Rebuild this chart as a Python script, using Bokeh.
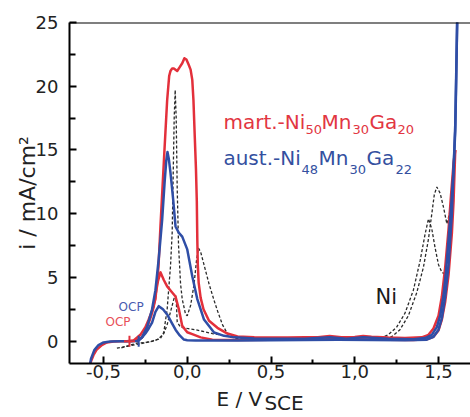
import math

from bokeh.embed import file_html
from bokeh.models import FixedTicker, Label, LinearAxis, Range1d, Span
from bokeh.plotting import figure
from bokeh.resources import INLINE

# --- cyclic voltammograms, E in V vs SCE, i in mA/cm^2 ---
# martensitic Ni50Mn30Ga20: anodic sweep and return sweep
mart_fwd_E = [-0.59, -0.578, -0.56, -0.54, -0.51, -0.48, -0.44, -0.40, -0.36, -0.32,
              -0.28, -0.25, -0.23, -0.21, -0.19, -0.172, -0.16, -0.15, -0.136, -0.12,
              -0.108, -0.10, -0.09, -0.08, -0.07, -0.06, -0.045, -0.03, -0.017, -0.005,
              0.008, 0.02, 0.03, 0.037, 0.045, 0.052, 0.057, 0.06, 0.063, 0.068,
              0.08, 0.097, 0.13, 0.18, 0.24, 0.30, 0.40, 0.50, 0.60, 0.70,
              0.78, 0.85, 0.92, 1.00, 1.05, 1.10, 1.20, 1.30, 1.40, 1.44,
              1.47, 1.50, 1.52, 1.54, 1.56, 1.575, 1.59, 1.60]
mart_fwd_i = [-2.6, -1.7, -1.1, -0.65, -0.3, -0.1, -0.03, 0.0, 0.0, 0.05,
              0.5, 1.1, 1.7, 2.4, 3.3, 5.8, 9.0, 11.5, 15.0, 18.9,
              20.8, 21.2, 21.4, 21.4, 21.3, 21.2, 21.5, 21.8, 22.2, 22.1,
              21.7, 21.3, 20.5, 18.9, 16.0, 13.5, 11.0, 8.0, 6.0, 4.6,
              3.4, 2.5, 1.6, 1.05, 0.6, 0.37, 0.3, 0.28, 0.28, 0.3,
              0.3, 0.4, 0.3, 0.32, 0.4, 0.35, 0.28, 0.25, 0.3, 0.5,
              1.0, 2.0, 3.5, 5.8, 8.8, 11.5, 14.0, 15.0]
mart_rev_E = [1.60, 1.59, 1.58, 1.56, 1.54, 1.52, 1.50, 1.47, 1.43, 1.35,
              1.2, 1.0, 0.85, 0.7, 0.5, 0.3, 0.15, 0.08, 0.03, 0.0,
              -0.03, -0.05, -0.07, -0.095, -0.12, -0.14, -0.16, -0.175, -0.19, -0.2,
              -0.215, -0.23, -0.25, -0.27, -0.3, -0.34]
mart_rev_i = [15.0, 11.0, 8.5, 5.2, 3.1, 1.7, 0.85, 0.35, 0.15, 0.1,
              0.12, 0.15, 0.2, 0.15, 0.12, 0.1, 0.12, 0.3, 0.55, 0.7,
              1.2, 2.5, 3.5, 3.9, 4.3, 4.8, 5.4, 4.7, 3.6, 2.7,
              2.0, 1.45, 0.75, 0.3, 0.08, 0.0]

# austenitic Ni48Mn30Ga22
aust_fwd_E = [-0.59, -0.575, -0.555, -0.53, -0.50, -0.46, -0.40, -0.35, -0.30, -0.27,
              -0.24, -0.21, -0.19, -0.17, -0.15, -0.135, -0.125, -0.118, -0.11, -0.10,
              -0.084, -0.07, -0.05, -0.03, 0.0, 0.03, 0.06, 0.1, 0.16, 0.22,
              0.28, 0.4, 0.55, 0.7, 0.85, 0.95, 1.05, 1.2, 1.35, 1.42,
              1.46, 1.49, 1.51, 1.53, 1.545, 1.56, 1.575, 1.59, 1.60, 1.605,
              1.612]
aust_fwd_i = [-2.6, -1.4, -0.7, -0.3, -0.1, -0.03, 0.0, 0.0, 0.02, 0.3,
              1.1, 2.5, 4.0, 6.5, 9.5, 12.5, 14.2, 14.85, 14.3, 13.2,
              11.1, 9.0, 8.5, 8.2, 7.2, 5.1, 3.3, 1.7, 0.68, 0.42,
              0.3, 0.22, 0.2, 0.2, 0.3, 0.2, 0.3, 0.2, 0.15, 0.25,
              0.5, 1.1, 2.0, 3.6, 5.5, 8.0, 10.5, 13.5, 16.5, 20.0,
              25.5]
aust_rev_E = [1.612, 1.60, 1.58, 1.56, 1.54, 1.52, 1.50, 1.47, 1.43, 1.3,
              1.1, 0.9, 0.7, 0.5, 0.3, 0.15, 0.05, 0.0, -0.02, -0.045,
              -0.07, -0.095, -0.12, -0.145, -0.17, -0.19, -0.21, -0.23, -0.25, -0.27,
              -0.29]
aust_rev_i = [25.5, 17.0, 10.0, 6.0, 3.5, 1.8, 0.9, 0.35, 0.12, 0.08,
              0.1, 0.12, 0.1, 0.08, 0.05, 0.05, 0.05, 0.08, 0.13, 0.45,
              0.9, 1.5, 2.1, 2.5, 2.75, 2.3, 1.45, 1.0, 0.6, 0.3,
              0.05]

# pure Ni reference (dotted)
ni_fwd_E = [-0.42, -0.36, -0.30, -0.24, -0.2, -0.16, -0.14, -0.12, -0.10, -0.09,
            -0.084, -0.078, -0.072, -0.066, -0.06, -0.052, -0.04, -0.03, -0.01, 0.0,
            0.02, 0.04, 0.055, 0.067, 0.08, 0.1, 0.13, 0.16, 0.18, 0.21,
            0.24, 0.27, 0.32, 0.45, 0.6, 0.8, 1.0, 1.1, 1.15, 1.2,
            1.25, 1.3, 1.35, 1.39, 1.42, 1.44, 1.46, 1.48, 1.5, 1.52,
            1.535, 1.55, 1.565, 1.58]
ni_fwd_i = [-0.55, -0.4, -0.25, -0.1, 0.05, 0.2, 0.7, 2.5, 5.9, 8.5,
            13.0, 17.5, 19.7, 17.5, 12.0, 7.5, 4.5, 3.3, 2.1, 2.0,
            2.8, 4.4, 6.3, 7.3, 7.0, 6.0, 4.5, 3.2, 2.4, 1.3,
            0.6, 0.3, 0.15, 0.1, 0.08, 0.1, 0.1, 0.12, 0.2, 0.5,
            1.1, 2.2, 4.0, 6.3, 8.4, 9.6, 8.8, 7.3, 6.0, 5.4,
            5.3, 6.5, 8.8, 11.0]
ni_rev_E = [1.58, 1.565, 1.55, 1.53, 1.51, 1.49, 1.475, 1.46, 1.44, 1.41,
            1.37, 1.32, 1.27, 1.22, 1.15, 1.0, 0.8, 0.6, 0.4, 0.28,
            0.15, 0.05, 0.0, -0.04, -0.06, -0.065, -0.07, -0.08, -0.1, -0.12,
            -0.14, -0.17, -0.2, -0.25, -0.3, -0.35, -0.4]
ni_rev_i = [11.0, 10.0, 9.2, 10.5, 11.6, 12.1, 11.5, 10.0, 8.0, 5.8,
            3.8, 2.0, 0.9, 0.35, 0.15, 0.1, 0.1, 0.1, 0.15, 0.3,
            0.6, 0.9, 1.0, 1.1, 1.5, 3.0, 3.6, 3.3, 2.3, 1.3,
            0.6, 0.2, 0.0, -0.1, -0.15, -0.35, -0.55]

# open circuit potentials
ocp_E_mart = -0.345
ocp_E_aust = -0.29
ocp_i = 0.0

x_ticks = [-0.5, 0.0, 0.5, 1.0, 1.5]
x_tick_labels = ["-0,5", "0,0", "0,5", "1,0", "1,5"]
x_minor = [-0.25, 0.25, 0.75, 1.25]
y_ticks = [0, 5, 10, 15, 20, 25]
y_tick_labels = ["0", "5", "10", "15", "20", "25"]
y_minor = [2.5, 7.5, 12.5, 17.5, 22.5]

mart_parts = ["mart.-Ni", "50", "Mn", "30", "Ga", "20"]
aust_parts = ["aust.-Ni", "48", "Mn", "30", "Ga", "22"]

RED = "#e3303b"
BLUE = "#2f4ea6"
INK = "#222222"
FONT = "DejaVu Sans"

p = figure(width=470, height=417, x_range=Range1d(-0.703, 1.691), y_range=(-1.75, 25),
           output_backend="svg", toolbar_location=None, title=None,
           min_border_left=69, min_border_right=0, min_border_top=22, min_border_bottom=53)
p.xgrid.visible = False
p.ygrid.visible = False
p.outline_line_color = None

xax = p.xaxis[0]
yax = p.yaxis[0]
for ax in (xax, yax):
    ax.axis_line_width = 2
    ax.axis_line_color = "black"
    ax.major_tick_line_width = 2
    ax.minor_tick_line_width = 2
    ax.major_tick_out = 0
    ax.minor_tick_out = 0
    ax.major_label_text_font = FONT
    ax.major_label_text_font_size = "18px"
    ax.major_label_text_color = INK

xax.ticker = FixedTicker(ticks=x_ticks, minor_ticks=x_minor)
xax.major_label_overrides = dict(zip(x_ticks, x_tick_labels))
xax.major_tick_in = 7
xax.minor_tick_in = 4
xax.major_label_standoff = 1

yax.ticker = FixedTicker(ticks=y_ticks, minor_ticks=y_minor)
yax.major_label_overrides = dict(zip(y_ticks, y_tick_labels))
yax.major_tick_in = 7
yax.minor_tick_in = 6
yax.major_label_standoff = 11
yax.axis_label = "i / mA/cm\u00b2"
yax.axis_label_text_font = FONT
yax.axis_label_text_font_size = "22px"
yax.axis_label_text_font_style = "normal"
yax.axis_label_text_color = INK
yax.axis_label_standoff = -7


# potential axis title "E / V" with subscript "SCE": bare axes stacked under the main
# one, each carrying a single label (the subscript row first, the title pulled back up)
def title_axis(pos, text, standoff):
    ax = LinearAxis(ticker=FixedTicker(ticks=[pos], minor_ticks=[]),
                    major_label_overrides={pos: text}, major_label_standoff=standoff,
                    major_label_text_font=FONT, major_label_text_font_size="20px",
                    major_label_text_color=INK, axis_line_color=None,
                    major_tick_line_color=None, minor_tick_line_color=None,
                    major_tick_in=0, major_tick_out=0, minor_tick_in=0, minor_tick_out=0)
    p.add_layout(ax, "below")


title_axis(0.578, "SCE", 10)
title_axis(0.311, "E / V", -31)

# top frame edge
p.add_layout(Span(location=25, dimension="width", line_color="black", line_width=2))

# Ni reference sweeps
for E, i in ((ni_fwd_E, ni_fwd_i), (ni_rev_E, ni_rev_i)):
    p.line(E, i, line_color="#2a2a2a", line_width=1.3, line_dash="3 2")

# alloy sweeps
for E, i in ((mart_fwd_E, mart_fwd_i), (mart_rev_E, mart_rev_i)):
    p.line(E, i, line_color=RED, line_width=2.5, line_join="round")
for E, i in ((aust_fwd_E, aust_fwd_i), (aust_rev_E, aust_rev_i)):
    p.line(E, i, line_color=BLUE, line_width=2.5, line_join="round")

p.scatter([ocp_E_mart], [ocp_i], marker="cross", size=11, line_color=RED, line_width=2)
p.scatter([ocp_E_aust], [ocp_i], marker="dash", angle=math.pi / 2, size=11,
          line_color=BLUE, line_width=2)


def formula(parts, x, y_main, y_sub, offsets, color):
    for k, (txt, off) in enumerate(zip(parts, offsets)):
        sub = k % 2 == 1
        p.add_layout(Label(x=x, y=y_sub if sub else y_main, x_offset=off, text=txt,
                           text_font=FONT, text_font_size="13px" if sub else "20px",
                           text_color=color, text_baseline="alphabetic"))


formula(mart_parts, 0.216, 17.18, 16.63, [0, 82, 98, 129, 146, 174], "#e23642")
formula(aust_parts, 0.216, 14.36, 13.5, [0, 78, 95, 126, 143, 172], "#34509f")

p.add_layout(Label(x=1.124, y=3.49, text="Ni", text_font=FONT, text_font_size="21px",
                   text_color="#1a1a1a", text_baseline="alphabetic"))
p.add_layout(Label(x=-0.41, y=2.71, text="OCP", text_font=FONT, text_font_size="12px",
                   text_color="#4a5bb0", text_baseline="alphabetic"))
p.add_layout(Label(x=-0.488, y=1.54, text="OCP", text_font=FONT, text_font_size="12px",
                   text_color="#e8505a", text_baseline="alphabetic"))

open("out.html", "w").write(file_html(p, INLINE))
